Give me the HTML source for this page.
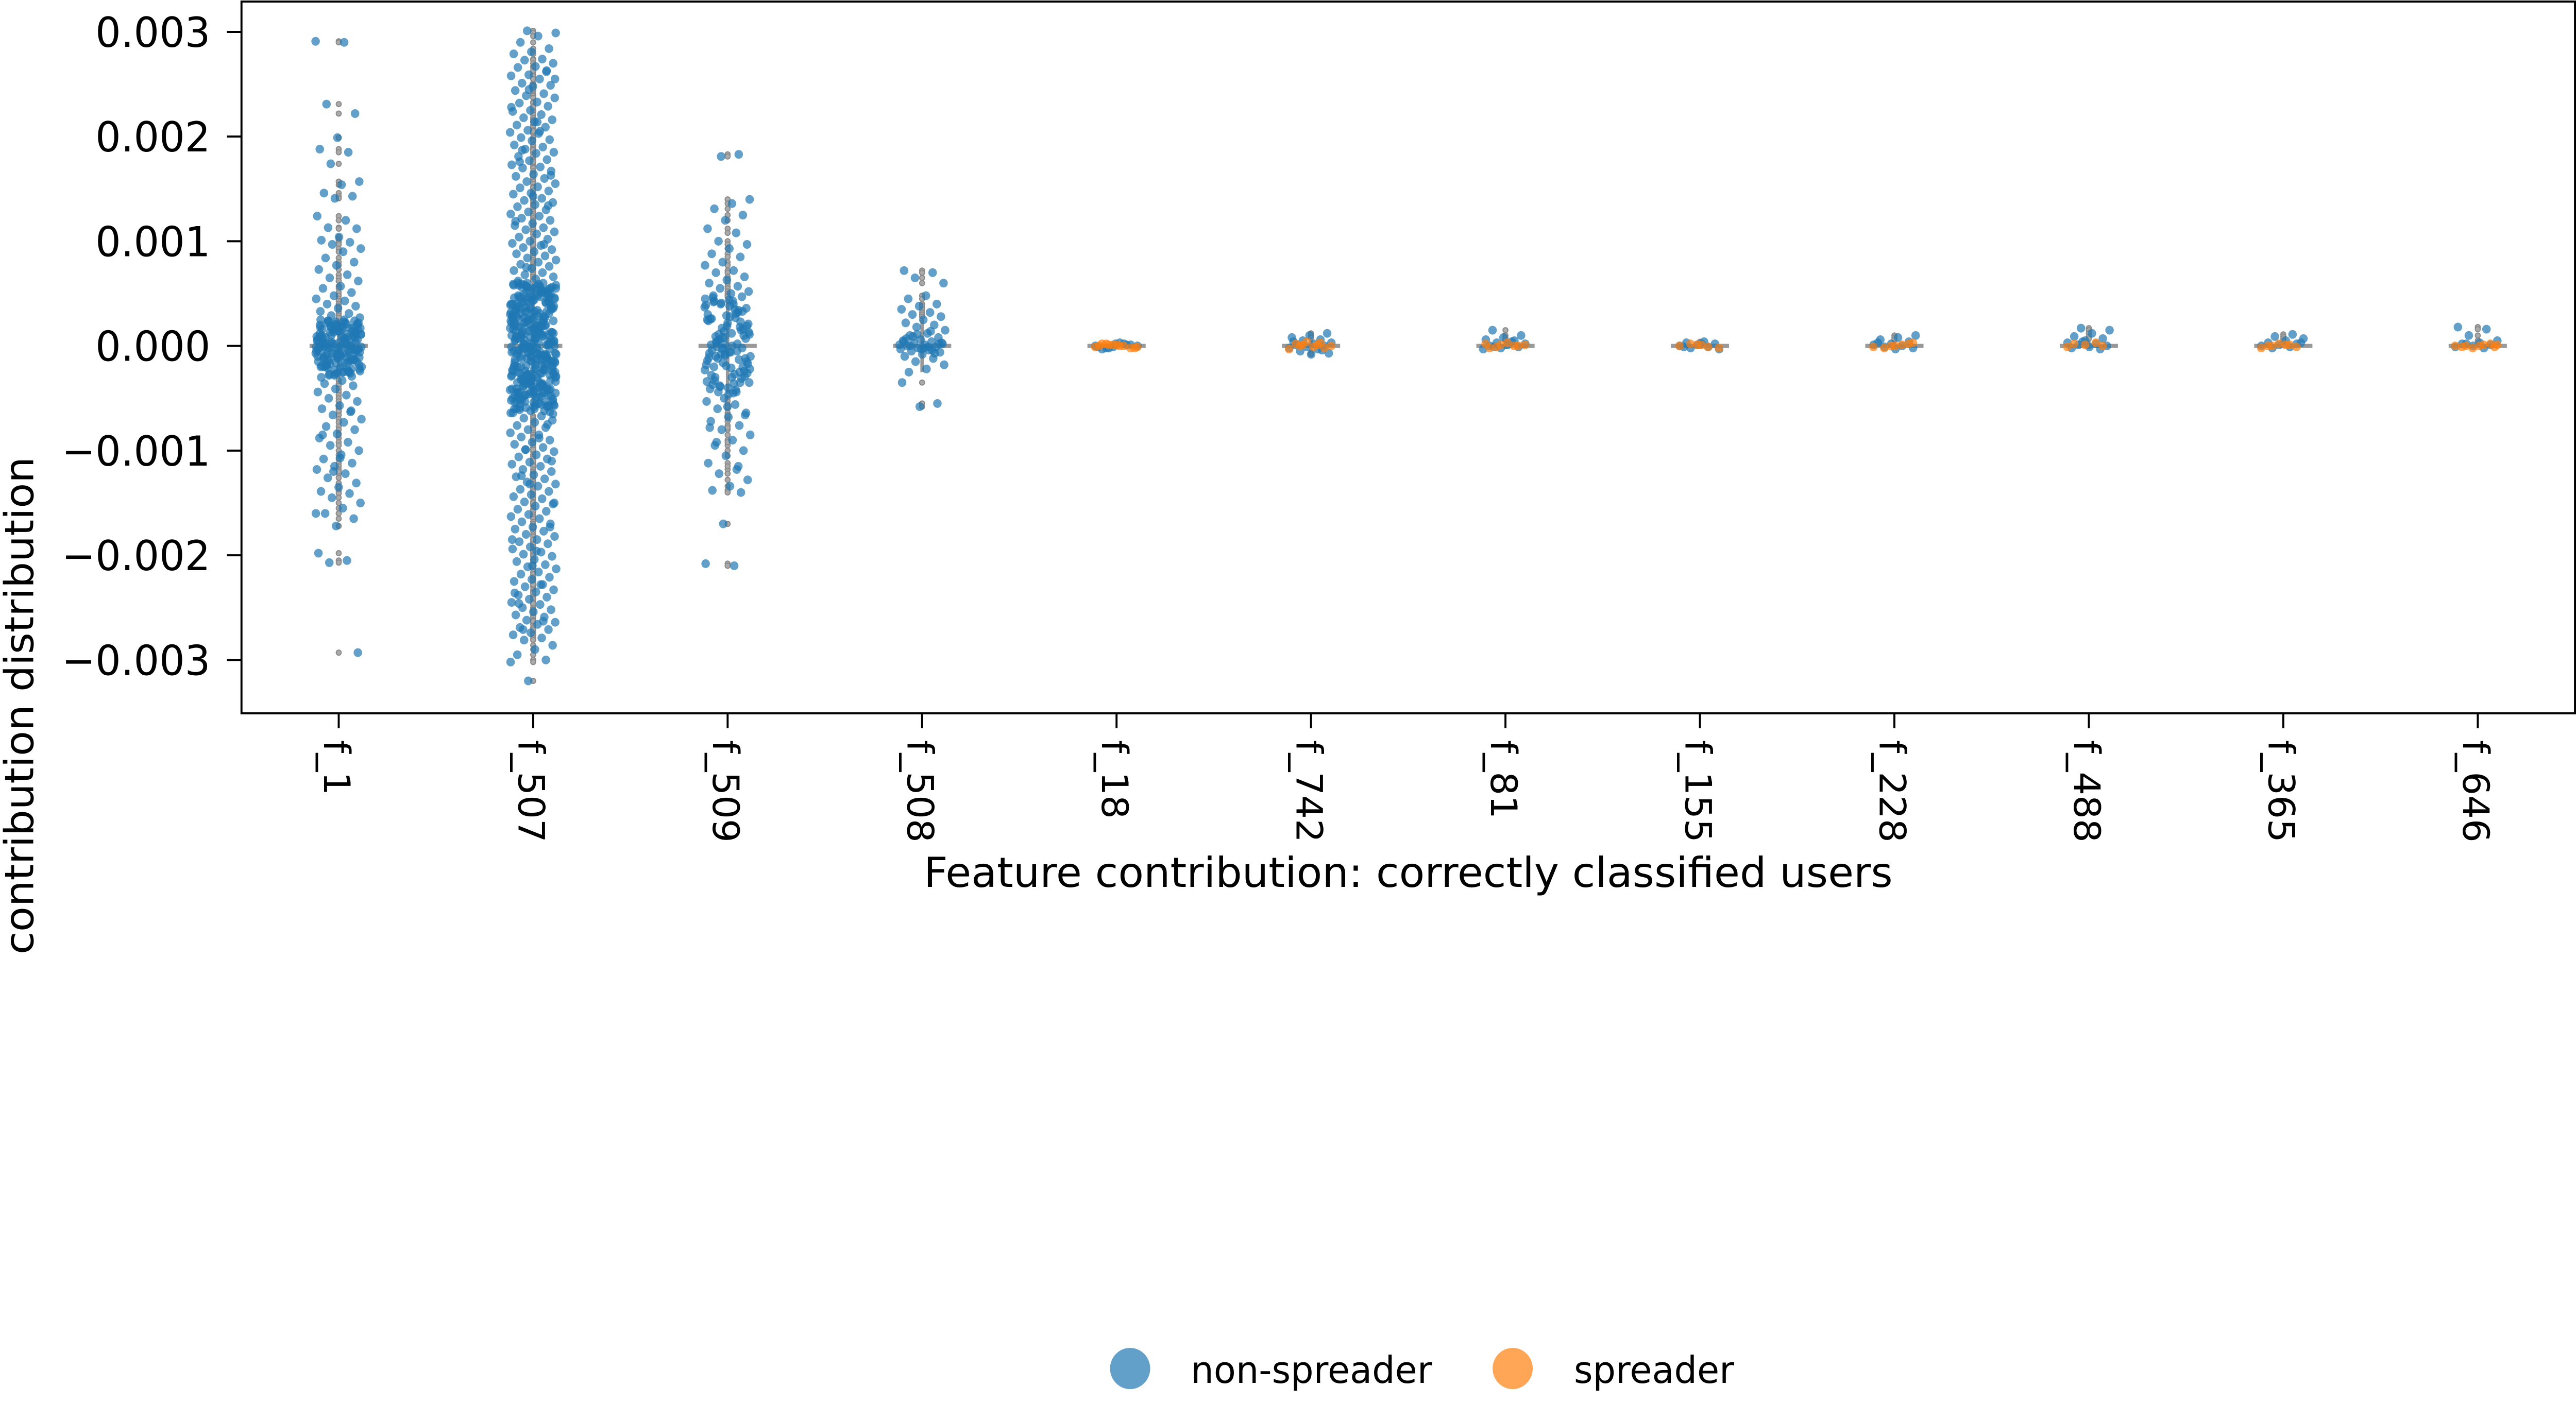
<!DOCTYPE html>
<html><head><meta charset="utf-8"><style>
html,body{margin:0;padding:0;background:#fff;width:100%;height:100%;overflow:hidden;}
svg{display:block;width:100vw;height:100vh;font-family:"DejaVu Sans","Liberation Sans",sans-serif;}
</style></head><body>
<svg id="chart" viewBox="0 0 5131 2724" preserveAspectRatio="none" xmlns="http://www.w3.org/2000/svg">
<g id="marks"></g>
<g id="axes"></g>
<text x="2805" y="1722" font-size="80" text-anchor="middle" textLength="1930" lengthAdjust="spacingAndGlyphs">Feature contribution: correctly classified users</text>
<text transform="translate(66,1370) rotate(-90)" font-size="80" text-anchor="middle">contribution distribution</text>
<g>
<circle cx="2251" cy="2657" r="40" fill="#1f77b4" fill-opacity="0.7"/>
<text x="2372" y="2685" font-size="72">non-spreader</text>
<circle cx="3013" cy="2657" r="40" fill="#ff7f0e" fill-opacity="0.7"/>
<text x="3135" y="2685" font-size="72">spreader</text>
</g>
</svg>
<script>
// values in units of 1e-5
const categories=["f_1","f_507","f_509","f_508","f_18","f_742","f_81","f_155","f_228","f_488","f_365","f_646"];
const yTicks=[0.003,0.002,0.001,0,-0.001,-0.002,-0.003];
const yTickLabels=["0.003","0.002","0.001","0.000","\u22120.001","\u22120.002","\u22120.003"];
const nsF1=[291,290,231,222,199,188,185,174,157,154,146,143,141,124,120,113,112,104,101,99,97,93,90,84,80,77,73,68,65,62,57,55,51,48,45,43,40,38,36,33,31,29,27,-33,-36,-38,-41,-44,-47,-50,-53,-57,-60,-63,-66,-70,-73,-77,-80,-84,-88,-92,-95,-100,-104,-108,-112,-115,-118,-122,-126,-131,-135,-139,-141,-145,-150,-155,-160,-165,-172,-198,-205,-207,-293,-107,-85,-62,-120,-160,
5,-3,12,-8,20,-15,2,-22,9,-1,17,-27,6,-11,24,-4,14,-19,0,-7,11,-25,3,-13,19,-2,8,-17,22,-9,1,-29,15,-5,7,-21,13,-12,25,-6,4,-24,18,-10,10,-16,-3,21,-28,6,-1,16,-14,2,-20,23,-8,12,-26,9,-4,19,-18,0,-11,14,-23,5,-7,24,-15,3,-30,17,-2,11,-19,8,-13,20,-5,1,-27,15,-9,7,-22,13,-1,22,-16,4,-12,18,-25,10,-6,16,-20,-3,21,-10,
2,-14,21,-6,10,-26,16,-1,7,-18,24,-9,4,-23,13,-3,19,-12,0,-28,9,-16,22,-5,14,-20,6,-10,17,-25,1,-8,23,-15,11,-2,20,-21,3,-13,15,-7,25,-19,8,-4,12,-24,18,-11];
const nsF507=[301,299,296,290,284,281,279,274,273,270,267,266,262,259,258,255,251,249,248,244,241,239,237,233,232,229,225,224,221,218,216,214,211,209,206,204,203,199,197,196,192,190,188,185,184,181,178,177,173,171,170,167,164,162,160,157,155,152,151,148,146,145,141,139,137,135,133,130,128,126,124,122,120,117,115,113,111,109,107,104,102,100,98,96,94,92,90,88,86,84,82,80,78,76,74,72,70,68,66,64,62,263,245,228,205,187,163,143,119,97,75,255,214,176,134,
-62,-64,-67,-69,-71,-73,-76,-78,-80,-83,-85,-87,-90,-92,-94,-97,-99,-101,-104,-106,-108,-111,-113,-115,-118,-120,-123,-125,-127,-130,-132,-134,-137,-139,-142,-144,-146,-149,-151,-153,-156,-158,-161,-163,-165,-168,-170,-173,-175,-177,-180,-182,-185,-187,-189,-192,-194,-197,-199,-201,-204,-206,-209,-211,-213,-216,-218,-221,-223,-225,-228,-230,-233,-235,-238,-240,-242,-245,-247,-250,-252,-254,-257,-259,-262,-264,-266,-269,-271,-274,-276,-279,-281,-286,-290,-295,-300,-320,-302,-88,-124,-173,-210,-236,-263,-99,-150,-196,-246,-75,-132,-185,-228,-271,-110,
3,-41,27,-12,55,-33,8,-58,44,-5,19,-47,36,-22,60,-9,14,-52,31,-1,49,-27,6,-38,23,-15,57,-44,11,-30,40,-56,2,-19,33,-8,52,-35,17,-49,45,-3,26,-60,9,-24,38,-13,58,-42,21,-6,47,-31,13,-54,35,-17,0,-45,29,-10,54,-37,16,-26,42,-51,7,-20,50,-2,24,-39,59,-14,32,-48,10,-28,46,-7,18,-57,37,-23,53,-34,4,-43,28,-11,56,-29,15,-50,41,-4,22,-36,
-53,12,-18,48,-40,25,-1,57,-32,6,-46,34,-9,51,-25,16,-59,43,-14,30,-38,2,-21,55,-44,20,-7,39,-55,11,-28,47,-16,60,-34,5,-49,26,-12,53,-41,18,-3,36,-58,9,-23,44,-30,14,-51,31,-6,58,-37,22,-15,49,-45,1,-27,40,-10,56,-33,17,-54,28,-19,45,-2,35,-47,8,-24,52,-39,13,-60,37,-8,24,-42,59,-20,4,-31,46,-13,33,-56,19,-5,50,-36,10,-26,41,-48,27,
14,-62,33,-7,48,-26,2,-44,59,-18,27,-53,9,-35,41,-1,-64,22,-12,55,-39,5,-23,37,-57,16,-4,50,-31,28,-48,11,-15,44,-60,19,-27,58,-8,31,-42,3,-20,53,-36,24,-56,7,-11,46,-29,13,-51,39,-3,21,-45,57,-16,34,-61,1,-33,26,-9,49,-24,17,-52,42,-6,30,-40,10,-63,55,-19,23,-47,4,-14,38,-58,15,-28,51,-2,35,-43,8,-21,60,-34,20,-55,45,-10,29,-37,6,-65,12,-25,52,-46,32,-5,18,-41,43,-13,25,-59,0,-30,47,-17,36,-50,11,-38,56,-22,40,-54,26,-8,3,-32,48,-15,19,-44,58,-27,7,-49,33,-1,22,-36,14];
const nsF509=[183,181,140,136,131,125,120,112,108,100,97,93,88,85,80,77,72,70,66,63,60,57,55,52,50,48,47,-50,-53,-56,-60,-64,-68,-72,-76,-80,-85,-90,-95,-100,-105,-112,-118,-122,-128,-134,-138,-140,-170,-208,-210,-92,-66,-58,-78,-115,
40,-35,12,-20,33,-8,25,-42,5,-15,44,-28,18,-3,37,-45,9,-24,29,-11,2,-38,21,-6,46,-31,14,-18,35,-1,7,-40,26,-13,41,-22,0,-33,16,-9,30,-44,11,-26,38,-4,23,-16,45,-36,4,-29,19,-7,32,-39,13,-21,42,-2,8,-34,27,-12,36,-46,1,-25,17,-10,43,-30,10,-19,24,-5,
6,-17,28,-37,15,-2,39,-27,3,-12,22,-41,34,-8,11,-30,43,-20,1,-14,31,-44,19,-6,26,-35,8,-23,40,-10];
const nsF508=[72,70,65,60,48,45,40,38,35,32,30,28,25,22,20,18,15,12,10,8,6,5,4,3,2,1,0,-1,-2,-3,-4,-5,-6,-8,-10,-12,-15,-18,-22,-25,-55,-58,-35,14,9,3,-2,7,-7,11,1,-1,0,2,-3,4,-4];
const nsF18=[2,-1,1,-2,0,3,-3,1,-1,0,2,-2];
const nsF742=[12,10,8,6,5,3,2,1,0,-1,-2,-3,-5,-7,-8,4,-4];
const nsF81=[15,10,8,6,5,3,2,1,0,-1,-2,-3,4,-1];
const nsF155=[4,3,2,1,0,-1,-2,-3,2,-1];
const nsF228=[10,8,6,4,2,1,0,-1,-2,-3,3];
const nsF488=[17,15,12,9,7,5,3,2,1,0,-1,-2,-3,4];
const nsF365=[11,9,7,5,3,2,1,0,-1,-2,3];
const nsF646=[18,16,10,5,3,2,1,0,-1,-2,2];
const spF18=[1,-1,0,2,-2,1,-1,0,2,-2,1,0];
const spF742=[3,1,0,-1,2,-2,4,-3,1,0];
const spF81=[2,0,-1,1,3,-2,0,1];
const spF155=[1,0,-1,2,-2,1];
const spF228=[2,0,-1,1,-2,3,0];
const spF488=[2,0,1,-1,3];
const spF365=[1,0,-1,2,-2,1,0];
const spF646=[1,0,-1,2,-2,0,1,0,-1];
const whiskerHi=[25,60,46,25,3,6,5,3,4,5,4,3];
const whiskerLo=[-30,-65,-46,-25,-3,-5,-3,-3,-3,-3,-2,-2];

const nonSpreader=[nsF1,nsF507,nsF509,nsF508,nsF18,nsF742,nsF81,nsF155,nsF228,nsF488,nsF365,nsF646];
const spreader=[[],[],[],[],spF18,spF742,spF81,spF155,spF228,spF488,spF365,spF646];

const NS="http://www.w3.org/2000/svg";
const L=481,R=5129,T=3,B=1385;
const yMax=0.00329,yMin=-0.00351;
const band=(R-L)/categories.length;
function xPos(i){return L+band*(i+0.5);}
function yPos(v){return T+(yMax-v)/(yMax-yMin)*(B-T);}
function mk(tag,attrs,parent){const e=document.createElementNS(NS,tag);for(const k in attrs)e.setAttribute(k,attrs[k]);parent.appendChild(e);return e;}
const marks=document.getElementById('marks');
const axes=document.getElementById('axes');

function jit(i,seed){const f=((i*0.6180339887+seed*0.37)%1+1)%1;return (f-0.5)*2*46;}

categories.forEach((c,ci)=>{
  const cx=xPos(ci);
  const g=mk('g',{},marks);
  
  
  const w=mk('line',{x1:cx,x2:cx,y1:yPos(whiskerHi[ci]*1e-5),y2:yPos(whiskerLo[ci]*1e-5),stroke:'#999',"stroke-width":7},g);
  
  
  const bx=mk('line',{x1:cx-58,x2:cx+58,y1:yPos(0),y2:yPos(0),stroke:'#999',"stroke-width":8},g);
  
  
  const all=nonSpreader[ci].concat(spreader[ci]);
  all.forEach(u=>{
    if(u>whiskerHi[ci]||u<whiskerLo[ci]){
      const f=mk('circle',{cx:cx,cy:yPos(u*1e-5),r:5,fill:'#aaa',stroke:'#8a8a8a','stroke-width':2},g);
      
      
    }
  });
});
categories.forEach((c,ci)=>{
  const cx=xPos(ci);
  nonSpreader[ci].forEach((u,i)=>{
    const el=mk('circle',{cx:cx+jit(i,ci),cy:yPos(u*1e-5),r:8.5,fill:'#1f77b4','fill-opacity':0.7},marks);
    
    
  });
  spreader[ci].forEach((u,i)=>{
    const el=mk('circle',{cx:cx+jit(i,ci+5),cy:yPos(u*1e-5),r:8.5,fill:'#ff7f0e','fill-opacity':0.7},marks);
    
    
  });
});
const fr=mk('rect',{x:L,y:T,width:R-L,height:B-T,fill:'none',stroke:'#000','stroke-width':4},axes);


yTicks.forEach((t,i)=>{
  const y=yPos(t);
  const tk=mk('line',{x1:L-29,x2:L,y1:y,y2:y,stroke:'#000','stroke-width':4},axes);
  
  
  const tx=mk('text',{x:L-62,y:y+29,'font-size':80,'text-anchor':'end'},axes);
  tx.textContent=yTickLabels[i];
  
  
});
categories.forEach((c,ci)=>{
  const x=xPos(ci);
  const tk=mk('line',{x1:x,x2:x,y1:B,y2:B+29,stroke:'#000','stroke-width':4},axes);
  
  
  const tx=mk('text',{transform:'translate('+(x-29)+','+(B+52)+') rotate(90)','font-size':72,'text-anchor':'start'},axes);
  tx.textContent=c;
  
  
});
</script>
</body></html>
